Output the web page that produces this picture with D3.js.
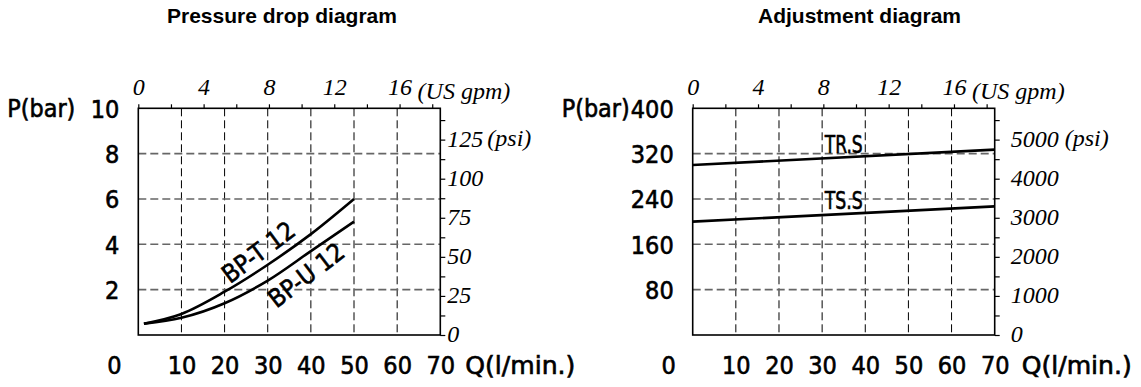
<!DOCTYPE html>
<html>
<head>
<meta charset="utf-8">
<script src="https://cdn.jsdelivr.net/npm/d3@7"></script>
<style>
  body { margin: 0; background: #fff; }
  svg { display: block; }
  .num { font-family: "DejaVu Sans Condensed", "DejaVu Sans", sans-serif; font-size: 25px; fill: #000; stroke: #000; stroke-width: 0.6px; }
  .imp { font-family: "Liberation Serif", "Times New Roman", serif; font-style: italic; font-size: 24px; fill: #000; }
  .title { font-family: "Liberation Sans", Arial, sans-serif; font-weight: bold; font-size: 21px; fill: #000; }
</style>
</head>
<body>
<svg id="chart"></svg>
<script>
const width = 1141;
const height = 387;

// shared flow axis: l/min at the bottom, US gpm on top
const flowTicks = [10, 20, 30, 40, 50, 60, 70];
const gpmLabels = [0, 4, 8, 12, 16];
const gpmTicks = [0, 2, 4, 6, 8, 10, 12, 14, 16, 18];
const LPM_PER_GPM = 3.785;
const PSI_PER_BAR = 14.5038;

// pressure drop diagram
const dropBarTicks = [2, 4, 6, 8, 10];
const dropPsiLabels = [0, 25, 50, 75, 100, 125];
const bptQ = [1.3, 10, 20, 30, 40, 50];
const bptP = [0.5, 0.93, 1.91, 3.1, 4.45, 6.0];
const bpuQ = [1.3, 10, 20, 30, 40, 50];
const bpuP = [0.5, 0.76, 1.4, 2.4, 3.7, 5.0];

// adjustment diagram
const adjBarTicks = [80, 160, 240, 320, 400];
const adjPsiLabels = [0, 1000, 2000, 3000, 4000, 5000];
const trsQ = [0, 70];
const trsP = [300, 327];
const tssQ = [0, 70];
const tssP = [200, 227];

const plotTop = 108.3;
const plotBottom = 335;
const plotWidth = 302;

const svg = d3.select("#chart").attr("width", width).attr("height", height);

function zip(qs, ps) {
  return qs.map((q, i) => [q, ps[i]]);
}

// linear lookup along a series, used to sit the labels on the curves
function valueAt(qs, ps, q) {
  return d3.scaleLinear().domain(qs).range(ps).clamp(true)(q);
}

function drawChart(cfg) {
  const g = svg.append("g");
  const x = d3.scaleLinear().domain([0, 70]).range([cfg.x0, cfg.x0 + plotWidth]);
  const y = d3.scaleLinear().domain([0, cfg.yMax]).range([plotBottom, plotTop]);
  const xGpm = d3.scaleLinear().domain([0, 70 / LPM_PER_GPM]).range(x.range());
  const yPsi = d3.scaleLinear().domain([0, cfg.yMax * PSI_PER_BAR]).range(y.range());

  g.append("text")
    .attr("class", "title")
    .attr("x", cfg.titleX)
    .attr("y", 23)
    .text(cfg.title);

  // grid
  g.append("g")
    .selectAll("line")
    .data(flowTicks.filter((d) => d < 70))
    .join("line")
    .attr("x1", (d) => x(d))
    .attr("x2", (d) => x(d))
    .attr("y1", plotTop)
    .attr("y2", plotBottom)
    .attr("stroke", "#000")
    .attr("stroke-width", 1)
    .attr("stroke-dasharray", "8,4");

  g.append("g")
    .selectAll("line")
    .data(cfg.barTicks.filter((d) => d < cfg.yMax))
    .join("line")
    .attr("x1", x(0))
    .attr("x2", x(70))
    .attr("y1", (d) => y(d))
    .attr("y2", (d) => y(d))
    .attr("stroke", "#666")
    .attr("stroke-width", 1.6)
    .attr("stroke-dasharray", "8,4");

  // top gpm axis
  const top = g.append("g")
    .attr("transform", `translate(0,${plotTop})`)
    .call(
      d3.axisTop(xGpm)
        .tickValues(gpmTicks)
        .tickSize(4)
        .tickPadding(9)
        .tickFormat((d) => (gpmLabels.includes(d) ? d : ""))
    );
  top.select(".domain").remove();
  top.selectAll("line").attr("stroke", "#000").attr("stroke-width", 1.2);
  top.selectAll("text").attr("class", "imp").attr("font-size", null).attr("font-family", null);
  g.append("text")
    .attr("class", "imp")
    .attr("x", xGpm(16) + 18)
    .attr("y", plotTop - 9)
    .text("(US gpm)");

  // right psi axis
  const maxPsi = cfg.yMax * PSI_PER_BAR;
  const right = g.append("g")
    .attr("transform", `translate(${x(70)},0)`)
    .call(
      d3.axisRight(yPsi)
        .tickValues(d3.range(0, maxPsi, cfg.psiStep))
        .tickSize(5)
        .tickPadding(cfg.psiPad)
        .tickFormat((d) => (cfg.psiLabels.includes(d) ? d : ""))
    );
  right.select(".domain").remove();
  right.selectAll("line").attr("stroke", "#000").attr("stroke-width", 1.2);
  right.selectAll("text")
    .attr("class", "imp")
    .attr("font-size", null)
    .attr("font-family", null)
    .attr("dy", "0.28em");
  const topPsi = cfg.psiLabels[cfg.psiLabels.length - 1];
  g.append("text")
    .attr("class", "imp")
    .attr("x", x(70) + 5 + cfg.psiPad + cfg.psiUnitGap)
    .attr("y", yPsi(topPsi))
    .attr("dy", "0.28em")
    .text("(psi)");

  // left bar axis
  const left = g.append("g")
    .attr("transform", `translate(${x(0)},0)`)
    .call(d3.axisLeft(y).tickValues(cfg.barTicks).tickSize(0).tickPadding(19));
  left.select(".domain").remove();
  left.selectAll("text")
    .attr("class", "num")
    .attr("font-size", null)
    .attr("font-family", null)
    .attr("dy", "0.36em");
  g.append("text")
    .attr("class", "num")
    .attr("x", x(0) - 131)
    .attr("y", y(cfg.yMax))
    .attr("dy", "0.36em")
    .attr("textLength", 68)
    .attr("lengthAdjust", "spacingAndGlyphs")
    .text("P(bar)");

  // bottom flow axis
  const bottom = g.append("g")
    .attr("transform", `translate(0,${plotBottom})`)
    .call(d3.axisBottom(x).tickValues(flowTicks).tickSize(0).tickPadding(0));
  bottom.select(".domain").remove();
  bottom.selectAll("text")
    .attr("class", "num")
    .attr("font-size", null)
    .attr("font-family", null)
    .attr("y", 39)
    .attr("dy", null);
  g.append("text")
    .attr("class", "num")
    .attr("x", x(0) - 24)
    .attr("y", plotBottom + 39)
    .attr("text-anchor", "middle")
    .text("0");
  g.append("text")
    .attr("class", "num")
    .attr("x", x(70) + cfg.qGap)
    .attr("y", plotBottom + 39)
    .attr("textLength", 110)
    .attr("lengthAdjust", "spacingAndGlyphs")
    .text("Q(l/min.)");

  // frame
  g.append("rect")
    .attr("x", x(0))
    .attr("y", plotTop)
    .attr("width", plotWidth)
    .attr("height", plotBottom - plotTop)
    .attr("fill", "none")
    .attr("stroke", "#000")
    .attr("stroke-width", 1.6);

  // curves
  const line = d3.line()
    .x((d) => x(d[0]))
    .y((d) => y(d[1]))
    .curve(d3.curveMonotoneX);

  cfg.series.forEach((s) => {
    g.append("path")
      .datum(zip(s.q, s.p))
      .attr("d", line)
      .attr("fill", "none")
      .attr("stroke", "#000")
      .attr("stroke-width", 2.6);

    const px = x(s.labelQ);
    const py = y(valueAt(s.q, s.p, s.labelQ));
    const ax = x(s.labelQ - 4), ay = y(valueAt(s.q, s.p, s.labelQ - 4));
    const bx = x(s.labelQ + 4), by = y(valueAt(s.q, s.p, s.labelQ + 4));
    const angle = s.rotate ? (Math.atan2(by - ay, bx - ax) * 180) / Math.PI - 3 : 0;

    g.append("text")
      .attr("class", "num")
      .attr("transform", `translate(${px},${py}) rotate(${angle})`)
      .attr("y", s.labelDy)
      .attr("text-anchor", "middle")
      .attr("textLength", s.labelWidth)
      .attr("lengthAdjust", "spacingAndGlyphs")
      .text(s.name);
  });
}

drawChart({
  x0: 138.3,
  title: "Pressure drop diagram",
  titleX: 167,
  yMax: 10,
  barTicks: dropBarTicks,
  psiLabels: dropPsiLabels,
  psiStep: 12.5,
  psiPad: 2,
  psiUnitGap: 40,
  qGap: 25,
  series: [
    { name: "BP-T 12", q: bptQ, p: bptP, labelQ: 30, labelDy: -7, rotate: true, labelWidth: 84 },
    { name: "BP-U 12", q: bpuQ, p: bpuP, labelQ: 36.5, labelDy: 26, rotate: true, labelWidth: 88 },
  ],
});

drawChart({
  x0: 692.7,
  title: "Adjustment diagram",
  titleX: 758,
  yMax: 400,
  barTicks: adjBarTicks,
  psiLabels: adjPsiLabels,
  psiStep: 500,
  psiPad: 11,
  psiUnitGap: 54,
  qGap: 27,
  series: [
    { name: "TR.S", q: trsQ, p: trsP, labelQ: 35, labelDy: -4, rotate: false, labelWidth: 38 },
    { name: "TS.S", q: tssQ, p: tssP, labelQ: 35, labelDy: -5, rotate: false, labelWidth: 38 },
  ],
});
</script>
</body>
</html>
